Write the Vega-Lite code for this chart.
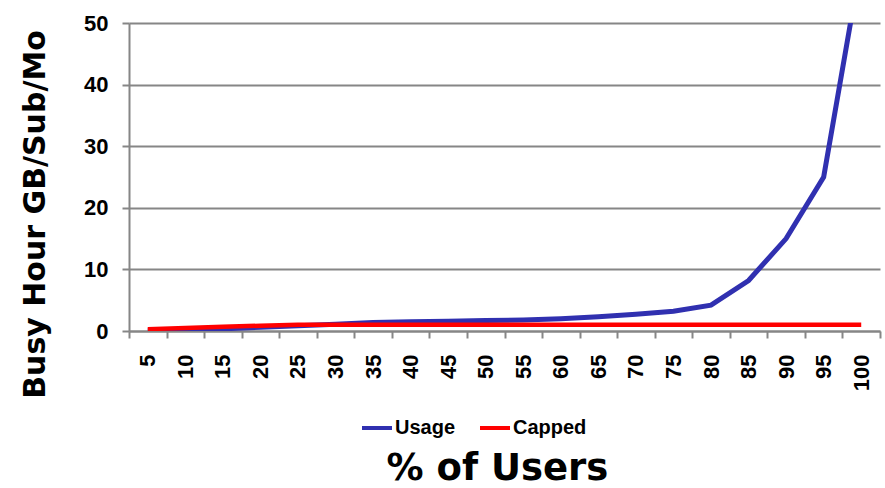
{
  "$schema": "https://vega.github.io/schema/vega-lite/v6.json",
  "width": 751,
  "height": 308,
  "autosize": {"type": "none"},
  "padding": {"left": 129, "top": 23, "right": 5, "bottom": 157},
  "background": "white",
  "config": {"view": {"stroke": null}},
  "data": {
    "values": [
      {"pct": 5, "series": "Usage", "gb": 0.05},
      {"pct": 10, "series": "Usage", "gb": 0.15},
      {"pct": 15, "series": "Usage", "gb": 0.35},
      {"pct": 20, "series": "Usage", "gb": 0.6},
      {"pct": 25, "series": "Usage", "gb": 0.85},
      {"pct": 30, "series": "Usage", "gb": 1.1},
      {"pct": 35, "series": "Usage", "gb": 1.4},
      {"pct": 40, "series": "Usage", "gb": 1.5},
      {"pct": 45, "series": "Usage", "gb": 1.6},
      {"pct": 50, "series": "Usage", "gb": 1.7},
      {"pct": 55, "series": "Usage", "gb": 1.8},
      {"pct": 60, "series": "Usage", "gb": 2.0},
      {"pct": 65, "series": "Usage", "gb": 2.3},
      {"pct": 70, "series": "Usage", "gb": 2.7},
      {"pct": 75, "series": "Usage", "gb": 3.2},
      {"pct": 80, "series": "Usage", "gb": 4.2},
      {"pct": 85, "series": "Usage", "gb": 8.2},
      {"pct": 90, "series": "Usage", "gb": 15},
      {"pct": 95, "series": "Usage", "gb": 25},
      {"pct": 100, "series": "Usage", "gb": 60},
      {"pct": 5, "series": "Capped", "gb": 0.3},
      {"pct": 10, "series": "Capped", "gb": 0.5},
      {"pct": 15, "series": "Capped", "gb": 0.7},
      {"pct": 20, "series": "Capped", "gb": 0.85},
      {"pct": 25, "series": "Capped", "gb": 1.0},
      {"pct": 30, "series": "Capped", "gb": 1.0},
      {"pct": 35, "series": "Capped", "gb": 1.0},
      {"pct": 40, "series": "Capped", "gb": 1.0},
      {"pct": 45, "series": "Capped", "gb": 1.0},
      {"pct": 50, "series": "Capped", "gb": 1.0},
      {"pct": 55, "series": "Capped", "gb": 1.0},
      {"pct": 60, "series": "Capped", "gb": 1.0},
      {"pct": 65, "series": "Capped", "gb": 1.0},
      {"pct": 70, "series": "Capped", "gb": 1.0},
      {"pct": 75, "series": "Capped", "gb": 1.0},
      {"pct": 80, "series": "Capped", "gb": 1.0},
      {"pct": 85, "series": "Capped", "gb": 1.0},
      {"pct": 90, "series": "Capped", "gb": 1.0},
      {"pct": 95, "series": "Capped", "gb": 1.0},
      {"pct": 100, "series": "Capped", "gb": 1.0}
    ]
  },
  "encoding": {
    "x": {
      "field": "pct",
      "type": "quantitative",
      "scale": {"domain": [2.5, 102.5], "nice": false, "zero": false},
      "axis": {
        "values": [2.5, 5, 7.5, 10, 12.5, 15, 17.5, 20, 22.5, 25, 27.5, 30, 32.5, 35, 37.5, 40, 42.5, 45, 47.5, 50, 52.5, 55, 57.5, 60, 62.5, 65, 67.5, 70, 72.5, 75, 77.5, 80, 82.5, 85, 87.5, 90, 92.5, 95, 97.5, 100, 102.5],
        "labelExpr": "datum.value % 5 === 0 ? datum.label : ''",
        "tickOpacity": {"condition": {"test": "datum.value % 5 === 0", "value": 0}, "value": 1},
        "labelAngle": -90,
        "labelOverlap": false,
        "labelFlush": false,
        "labelFont": "Liberation Sans",
        "labelFontWeight": "bold",
        "labelFontSize": 22,
        "labelColor": "black",
        "labelPadding": 16,
        "tickSize": 7,
        "tickWidth": 2,
        "tickColor": "#868686",
        "domainColor": "#868686",
        "domainWidth": 2,
        "grid": false,
        "title": "% of Users",
        "titleFont": "DejaVu Sans",
        "titleFontSize": 37,
        "titleFontWeight": "bold",
        "titleColor": "black",
        "titleX": 368,
        "titleY": 148,
        "titleBaseline": "alphabetic"
      }
    },
    "y": {
      "field": "gb",
      "type": "quantitative",
      "scale": {"domain": [0, 50], "nice": false},
      "axis": {
        "values": [0, 10, 20, 30, 40, 50],
        "grid": true,
        "gridColor": "#868686",
        "gridWidth": 2,
        "domainColor": "#868686",
        "domainWidth": 2,
        "tickSize": 7,
        "tickWidth": 2,
        "tickColor": "#868686",
        "labelFont": "Liberation Sans",
        "labelFontWeight": "bold",
        "labelFontSize": 22,
        "labelColor": "black",
        "labelPadding": 14,
        "title": "Busy Hour  GB/Sub/Mo",
        "titleFont": "DejaVu Sans",
        "titleFontSize": 30,
        "titleFontWeight": "bold",
        "titleColor": "black",
        "titleX": -85,
        "titleY": 191,
        "titleAlign": "center",
        "titleBaseline": "alphabetic"
      }
    },
    "color": {
      "field": "series",
      "type": "nominal",
      "scale": {"domain": ["Usage", "Capped"], "range": ["#3030B0", "#FF0000"]},
      "legend": {
        "orient": "none",
        "legendX": 231,
        "legendY": 388,
        "direction": "horizontal",
        "title": null,
        "symbolType": "stroke",
        "symbolSize": 900,
        "symbolStrokeWidth": 4,
        "labelFont": "Liberation Sans",
        "labelFontWeight": "bold",
        "labelFontSize": 20,
        "labelColor": "black",
        "labelOffset": 1,
        "columnPadding": 16
      }
    }
  },
  "layer": [
    {
      "transform": [{"filter": "datum.series === 'Usage'"}],
      "mark": {"type": "line", "clip": true, "strokeWidth": 5}
    },
    {
      "transform": [{"filter": "datum.series === 'Capped'"}],
      "mark": {"type": "line", "clip": true, "strokeWidth": 4.5}
    }
  ]
}
